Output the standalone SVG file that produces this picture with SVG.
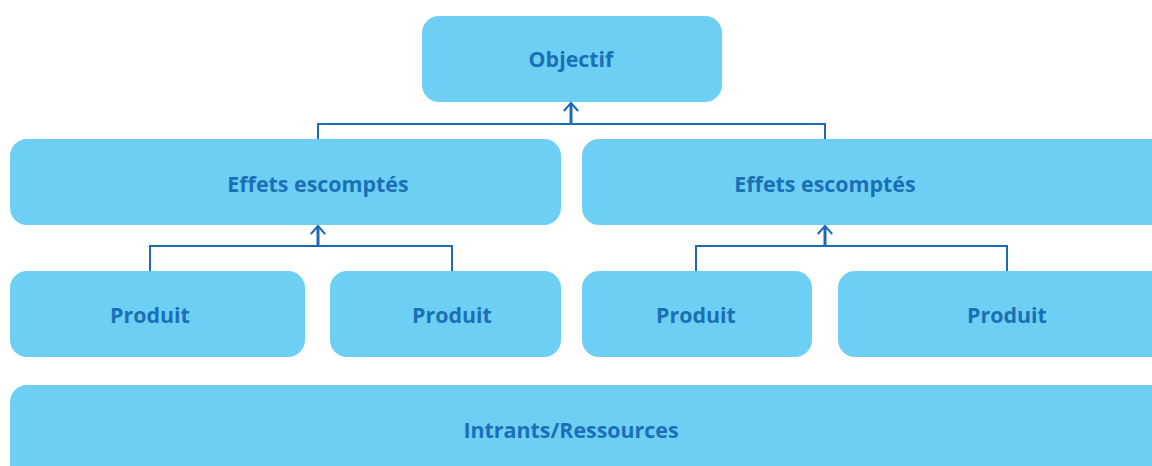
<svg xmlns="http://www.w3.org/2000/svg" width="1152" height="466" viewBox="0 0 1152 466">
<style>
.box{fill:#6dcff4}
.lbl{font-family:"Open Sans","Liberation Sans",sans-serif;font-weight:bold;font-size:21.4px;fill:#1b6fb5;text-anchor:middle}
.ln{fill:none;stroke:#1b6ab3;stroke-width:2}
.stem{fill:none;stroke:#1b6ab3;stroke-width:3}
</style>
<defs>
<marker id="ah" markerWidth="12" markerHeight="16" refX="10" refY="8" orient="auto" markerUnits="userSpaceOnUse" viewBox="0 0 12 16">
<path d="M2,0.8 L10,8 L2,15.2" fill="none" stroke="#1b6ab3" stroke-width="2"/>
</marker>
</defs>
<g id="objectif"><rect class="box" x="422" y="16" width="300" height="86" rx="17"/><text class="lbl" x="571" y="67">Objectif</text></g>
<g id="effets1"><rect class="box" x="10" y="139" width="551" height="86" rx="17"/><text class="lbl" x="318" y="192">Effets escomptés</text></g>
<g id="effets2"><rect class="box" x="582" y="139" width="590" height="86" rx="17"/><text class="lbl" x="825" y="192">Effets escomptés</text></g>
<g id="produit1"><rect class="box" x="10" y="271" width="295" height="86" rx="17"/><text class="lbl" x="150" y="323">Produit</text></g>
<g id="produit2"><rect class="box" x="330" y="271" width="231" height="86" rx="17"/><text class="lbl" x="452" y="323">Produit</text></g>
<g id="produit3"><rect class="box" x="582" y="271" width="230" height="86" rx="17"/><text class="lbl" x="696" y="323">Produit</text></g>
<g id="produit4"><rect class="box" x="838" y="271" width="334" height="86" rx="17"/><text class="lbl" x="1007" y="323">Produit</text></g>
<g id="intrants"><rect class="box" x="10" y="385" width="1162" height="100" rx="17"/><text class="lbl" x="571" y="438">Intrants/Ressources</text></g>
<g id="connectors">
<path class="ln" d="M318,139 V124 H825 V139"/>
<path class="stem" d="M571,124 V103" marker-end="url(#ah)"/>
<path class="ln" d="M150,271 V246 H452 V271"/>
<path class="stem" d="M318,246 V226" marker-end="url(#ah)"/>
<path class="ln" d="M696,271 V246 H1007 V271"/>
<path class="stem" d="M825,246 V226" marker-end="url(#ah)"/>
</g>
</svg>
